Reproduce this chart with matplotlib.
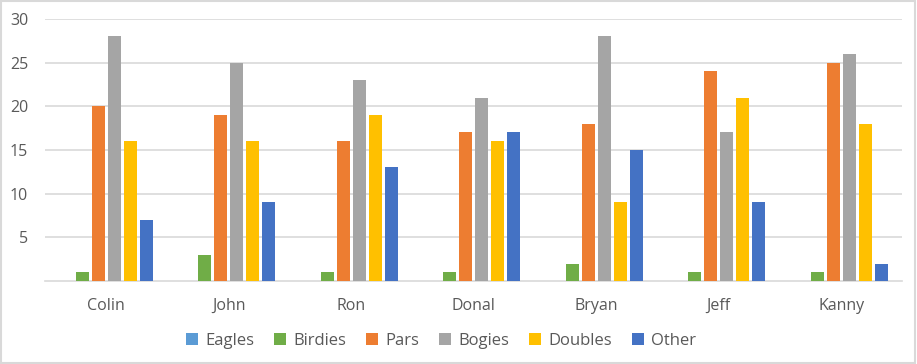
import numpy as np
import matplotlib
matplotlib.use('Agg')
import matplotlib.pyplot as plt
from matplotlib.patches import Rectangle

players = ['Colin', 'John', 'Ron', 'Donal', 'Bryan', 'Jeff', 'Kanny']
eagles = [0, 0, 0, 0, 0, 0, 0]
birdies = [1, 3, 1, 1, 2, 1, 1]
pars = [20, 19, 16, 17, 18, 24, 25]
bogies = [28, 25, 23, 21, 28, 17, 26]
doubles = [16, 16, 19, 16, 9, 21, 18]
other = [7, 9, 13, 17, 15, 9, 2]

series = [('Eagles', eagles, '#5B9BD5'),
          ('Birdies', birdies, '#70AD47'),
          ('Pars', pars, '#ED7D31'),
          ('Bogies', bogies, '#A5A5A5'),
          ('Doubles', doubles, '#FFC000'),
          ('Other', other, '#4472C4')]

TEXT = '#595959'
GRID = '#D9D9D9'

plt.rcParams['font.family'] = ['Open Sans', 'DejaVu Sans']

fig = plt.figure(figsize=(9.17, 3.64), dpi=100)
ax = fig.add_axes([0.049, 0.228, 0.935, 0.72])

x = np.arange(len(players))
slot = 0.1306
width = 0.106
for i, (name, vals, col) in enumerate(series):
    ax.bar(x + (i - 2.5) * slot, vals, width, color=col, label=name,
           zorder=3)

ax.set_xlim(-0.5, len(players) - 0.5)
ax.set_ylim(0, 30)
ax.set_yticks([5, 10, 15, 20, 25, 30])
ax.set_xticks(x)
ax.set_xticklabels(players)
ax.tick_params(axis='both', length=0, colors=TEXT, labelsize=11.5)
ax.tick_params(axis='x', pad=12)
ax.tick_params(axis='y', pad=12)
ax.yaxis.grid(True, color=GRID, linewidth=1.2, zorder=0)
for s in ['top', 'right', 'left']:
    ax.spines[s].set_visible(False)
ax.spines['bottom'].set_color(GRID)
ax.spines['bottom'].set_linewidth(1.2)

fig.legend(loc='center', bbox_to_anchor=(0.481, 0.064), ncol=6,
           frameon=False, handlelength=0.7, handleheight=0.7,
           handletextpad=0.45, columnspacing=1.2, fontsize=12,
           labelcolor=TEXT)

fig.patches.append(Rectangle((0.001, 0.003), 0.997, 0.994,
                             transform=fig.transFigure, fill=False,
                             edgecolor=GRID, linewidth=1.5))

fig.savefig('out.png', dpi=100, facecolor='white')
